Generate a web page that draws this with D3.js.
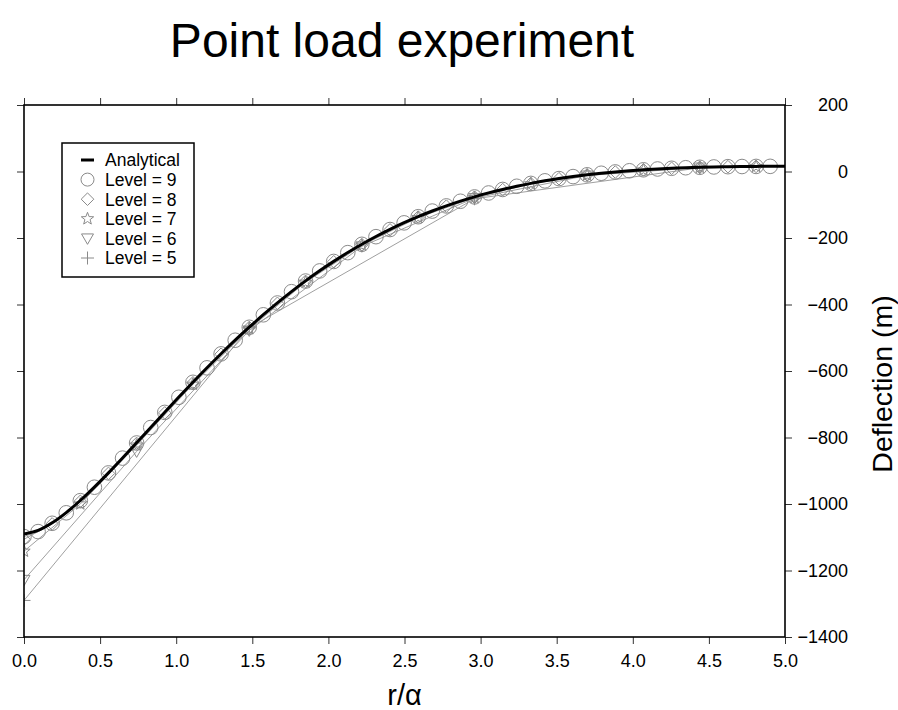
<!DOCTYPE html>
<html>
<head>
<meta charset="utf-8">
<script src="https://cdn.jsdelivr.net/npm/d3@7"></script>
<style>
  html, body { margin: 0; padding: 0; background: #fff; }
  svg text { font-family: "Liberation Sans", Arial, Helvetica, sans-serif; }
</style>
</head>
<body>
<svg id="chart" width="898" height="710"></svg>
<script>
// ---------------- DATA ----------------
const title = "Point load experiment";
const xLabel = "r/\u03b1";
const yLabel = "Deflection (m)";
const xTickValues = [0, 0.5, 1, 1.5, 2, 2.5, 3, 3.5, 4, 4.5, 5];
const yTickValues = [-1400, -1200, -1000, -800, -600, -400, -200, 0, 200];

// Analytical curve
const analyticalX = [0, 0.0925, 0.185, 0.2775, 0.37, 0.4625, 0.555, 0.6475, 0.74, 0.8325, 0.925, 1.0175, 1.11, 1.2025, 1.295, 1.3875, 1.48, 1.5725, 1.665, 1.7575, 1.85, 1.9425, 2.035, 2.1275, 2.22, 2.3125, 2.405, 2.4975, 2.59, 2.6825, 2.775, 2.8675, 2.96, 3.0525, 3.145, 3.2375, 3.33, 3.4225, 3.515, 3.6075, 3.7, 3.7925, 3.885, 3.9775, 4.07, 4.1625, 4.255, 4.3475, 4.44, 4.5325, 4.625, 4.7175, 4.81, 4.9025, 5.0];
const analyticalY = [-1090, -1079.6, -1056.7, -1025.8, -989.5, -949.2, -906.3, -861.6, -815.9, -769.8, -723.9, -678.4, -633.8, -590.3, -548.1, -507.3, -468.2, -430.7, -395.0, -361.1, -329.0, -298.8, -270.3, -243.7, -218.8, -195.6, -174.1, -154.1, -135.7, -118.8, -103.3, -89.1, -76.2, -64.4, -53.9, -44.3, -35.7, -28.0, -21.2, -15.2, -9.9, -5.2, -1.2, 2.3, 5.2, 7.7, 9.8, 11.4, 12.8, 13.8, 14.6, 15.1, 15.4, 15.6, 15.5];

// Level 9
const level9X = [0, 0.0925, 0.185, 0.2775, 0.37, 0.4625, 0.555, 0.6475, 0.74, 0.8325, 0.925, 1.0175, 1.11, 1.2025, 1.295, 1.3875, 1.48, 1.5725, 1.665, 1.7575, 1.85, 1.9425, 2.035, 2.1275, 2.22, 2.3125, 2.405, 2.4975, 2.59, 2.6825, 2.775, 2.8675, 2.96, 3.0525, 3.145, 3.2375, 3.33, 3.4225, 3.515, 3.6075, 3.7, 3.7925, 3.885, 3.9775, 4.07, 4.1625, 4.255, 4.3475, 4.44, 4.5325, 4.625, 4.7175, 4.81, 4.9025];
const level9Y = [-1098, -1083, -1058, -1026.5, -990, -949.5, -906.5, -862, -816.5, -770, -724.5, -679, -634, -590.5, -548.5, -507.5, -468.5, -431, -395.5, -361.5, -329.5, -299, -270.5, -244, -219, -196, -174.5, -154.5, -136, -119, -103.5, -89.5, -76.5, -64.6, -54, -44.4, -35.8, -28.1, -21.3, -15.3, -10, -5.3, -1.3, 2.2, 5.1, 7.6, 9.7, 11.3, 12.7, 13.7, 14.5, 15, 15.3, 15.5];

// Level 8
const level8X = [0, 0.185, 0.37, 0.555, 0.74, 0.925, 1.11, 1.295, 1.48, 1.665, 1.85, 2.035, 2.22, 2.405, 2.59, 2.775, 2.96, 3.145, 3.33, 3.515, 3.7, 3.885, 4.07, 4.255, 4.44, 4.625, 4.81];
const level8Y = [-1106, -1060, -992, -908, -818, -726, -635.5, -549.5, -469.5, -396.5, -330.5, -271.5, -220, -175.5, -137, -104.2, -77.2, -54.5, -36.3, -21.7, -10.3, -1.6, 4.9, 9.6, 12.6, 14.5, 15.3];

// Level 7
const level7X = [0, 0.37, 0.74, 1.11, 1.48, 1.85, 2.22, 2.59, 2.96, 3.33, 3.7, 4.07, 4.44, 4.81];
const level7Y = [-1142, -1000, -823, -640, -473, -333, -222, -138.5, -78.5, -37, -11, 4.6, 12.4, 15.2];

// Level 6
const level6X = [0, 0.74, 1.48, 2.22, 2.96, 3.7, 4.44];
const level6Y = [-1228, -842, -478, -225, -80, -12, 12];

// Level 5
const level5X = [0, 1.48, 2.96, 4.44];
const level5Y = [-1290, -470, -82, 11];

const legendLabels = ["Analytical", "Level = 9", "Level = 8", "Level = 7", "Level = 6", "Level = 5"];

// ---------------- CHART ----------------
const svg = d3.select("#chart");
const L = 24, R = 785, T = 105, B = 637;
const x = d3.scaleLinear().domain([0, 5]).range([L, R]);
const y = d3.scaleLinear().domain([-1400, 200]).range([B, T]);

const markerStroke = "#8a8a8a";
const lineGray = "#a0a0a0";

// symbol path generators (outline)
function circlePath(r) { return d3.symbol().type(d3.symbolCircle).size(Math.PI * r * r)(); }
function diamondPath(s) { return `M0,${-s}L${s},0L0,${s}L${-s},0Z`; }
function starPath(ro) {
  const ri = ro * 0.42;
  const pts = [];
  for (let i = 0; i < 10; i++) {
    const a = -Math.PI / 2 + i * Math.PI / 5;
    const r = i % 2 === 0 ? ro : ri;
    pts.push([r * Math.cos(a), r * Math.sin(a)]);
  }
  return "M" + pts.map(p => p[0].toFixed(2) + "," + p[1].toFixed(2)).join("L") + "Z";
}
function triDownPath(s) {
  const h = s * Math.sqrt(3) / 2;
  return `M${-s / 2},${-h / 3 - 1}L${s / 2},${-h / 3 - 1}L0,${2 * h / 3 - 1}Z`;
}
function plusPath(s) { return `M${-s},0L${s},0M0,${-s}L0,${s}`; }

svg.append("defs").append("clipPath").attr("id", "plotclip")
  .append("rect").attr("x", L).attr("y", T).attr("width", R - L).attr("height", B - T);

// Title
svg.append("text").attr("x", 402).attr("y", 57).attr("text-anchor", "middle")
  .attr("font-size", 48).attr("fill", "#000").text(title);

const plot = svg.append("g").attr("clip-path", "url(#plotclip)");

const series = [
  { xs: level5X, ys: level5Y, path: plusPath(6.5) },
  { xs: level6X, ys: level6Y, path: triDownPath(12) },
  { xs: level7X, ys: level7Y, path: starPath(6.5) },
  { xs: level8X, ys: level8Y, path: diamondPath(6.3) },
  { xs: level9X, ys: level9Y, path: circlePath(7.3) }
];

const lineGen = d3.line().x(d => x(d[0])).y(d => y(d[1]));

series.forEach(s => {
  const pts = s.xs.map((v, i) => [v, s.ys[i]]);
  plot.append("path").attr("d", lineGen(pts)).attr("fill", "none")
    .attr("stroke", lineGray).attr("stroke-width", 1);
});
series.slice().reverse().forEach(s => {
  const pts = s.xs.map((v, i) => [v, s.ys[i]]);
  plot.selectAll(null).data(pts).enter().append("path")
    .attr("d", s.path)
    .attr("transform", d => `translate(${x(d[0])},${y(d[1])})`)
    .attr("fill", "none").attr("stroke", markerStroke).attr("stroke-width", 1);
});

// Analytical
const aPts = analyticalX.map((v, i) => [v, analyticalY[i]]);
plot.append("path").attr("d", d3.line().x(d => x(d[0])).y(d => y(d[1])).curve(d3.curveCatmullRom)(aPts))
  .attr("fill", "none").attr("stroke", "#000").attr("stroke-width", 3);

// Axes
function styleAxis(g) {
  g.select(".domain").remove();
  g.selectAll(".tick line").attr("stroke", "#333").attr("stroke-width", 1);
  g.selectAll("text").attr("font-size", 18).attr("fill", "#000")
    .attr("font-family", "'Liberation Sans', Arial, sans-serif");
}
svg.append("g").attr("transform", `translate(0,${B})`)
  .call(d3.axisBottom(x).tickValues(xTickValues).tickSize(7).tickPadding(10).tickFormat(d3.format(".1f")))
  .call(styleAxis);
svg.append("g").attr("transform", `translate(0,${T})`)
  .call(d3.axisTop(x).tickValues(xTickValues).tickSize(7).tickFormat(""))
  .call(styleAxis);
svg.append("g").attr("transform", `translate(${L},0)`)
  .call(d3.axisLeft(y).tickValues(yTickValues).tickSize(7).tickFormat(""))
  .call(styleAxis);
const rAxis = svg.append("g").attr("transform", `translate(${R},0)`)
  .call(d3.axisRight(y).tickValues(yTickValues).tickSize(7).tickFormat(d => d < 0 ? "\u2212" + Math.abs(d) : String(d)))
  .call(styleAxis);
rAxis.selectAll(".tick text").attr("x", 63).attr("text-anchor", "end");

// Frame
svg.append("rect").attr("x", L).attr("y", T).attr("width", R - L).attr("height", B - T)
  .attr("fill", "none").attr("stroke", "#000").attr("stroke-width", 1.6);

// Axis labels
svg.append("text").attr("x", (L + R) / 2).attr("y", 705).attr("text-anchor", "middle")
  .attr("font-size", 29).text(xLabel);
svg.append("text").attr("transform", `translate(892,384) rotate(-90)`)
  .attr("text-anchor", "middle").attr("font-size", 28.5).text(yLabel);

// Legend
const lg = svg.append("g").attr("transform", "translate(62,143)");
lg.append("rect").attr("width", 132).attr("height", 134).attr("fill", "#fff")
  .attr("stroke", "#000").attr("stroke-width", 1.5);
const legendSymbols = [null, circlePath(6.5), diamondPath(6.3), starPath(6.5), triDownPath(12), plusPath(6.5)];
legendLabels.forEach((lab, i) => {
  const cy = 17 + i * 19.6;
  if (i === 0) {
    lg.append("line").attr("x1", 19).attr("x2", 32).attr("y1", cy).attr("y2", cy)
      .attr("stroke", "#000").attr("stroke-width", 3);
  } else {
    lg.append("path").attr("d", legendSymbols[i]).attr("transform", `translate(25.5,${cy})`)
      .attr("fill", "none").attr("stroke", markerStroke).attr("stroke-width", 1);
  }
  lg.append("text").attr("x", 43).attr("y", cy).attr("dy", "0.36em")
    .attr("font-size", 17.5).text(lab);
});
</script>
</body>
</html>
